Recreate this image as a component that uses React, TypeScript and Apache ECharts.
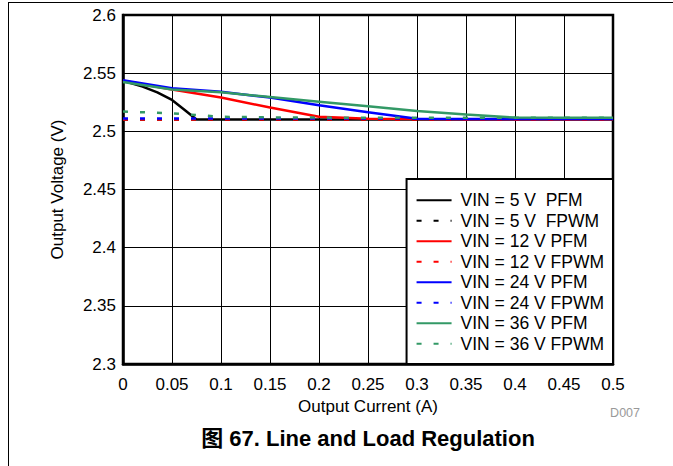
import React, { useEffect, useRef } from 'react';
import * as echarts from 'echarts';

// Output current (A) grid used by most curves
const currentGrid = [0, 0.05, 0.1, 0.15, 0.2, 0.25, 0.3, 0.35, 0.4, 0.45, 0.5];

// VIN = 5 V PFM (own x points because of the knee)
const vin5PfmCurrent = [0, 0.02, 0.035, 0.05, 0.062, 0.075, 0.1, 0.15, 0.2, 0.25, 0.3, 0.35, 0.4, 0.45, 0.5];
const vin5PfmVoltage = [2.5435, 2.5385, 2.5335, 2.527, 2.519, 2.5102, 2.5101, 2.5101, 2.5101, 2.5101, 2.5101, 2.5101, 2.5101, 2.5101, 2.5101];
const vin5FpwmVoltage = [2.5102, 2.5102, 2.5102, 2.5102, 2.5102, 2.5102, 2.5102, 2.5102, 2.5102, 2.5102, 2.5102];

const vin12PfmVoltage = [2.5435, 2.536, 2.529, 2.5205, 2.5125, 2.5108, 2.5105, 2.5104, 2.5104, 2.5104, 2.5104];
const vin12FpwmVoltage = [2.5102, 2.5102, 2.5102, 2.5102, 2.5102, 2.5102, 2.5102, 2.5102, 2.5102, 2.5102, 2.5102];

const vin24PfmVoltage = [2.544, 2.537, 2.534, 2.529, 2.5225, 2.5165, 2.5108, 2.5107, 2.5107, 2.5107, 2.5107];
const vin24FpwmVoltage = [2.5111, 2.5111, 2.5111, 2.5111, 2.5111, 2.5111, 2.5111, 2.5111, 2.5111, 2.5111, 2.5111];

const vin36PfmVoltage = [2.5425, 2.536, 2.5335, 2.5295, 2.5255, 2.5215, 2.5175, 2.5145, 2.5118, 2.5116, 2.5116];
const vin36FpwmCurrent = [0, 0.05, 0.075, 0.1, 0.15, 0.2, 0.25, 0.3, 0.35, 0.4, 0.45, 0.5];
const vin36FpwmVoltage = [2.517, 2.5155, 2.514, 2.5125, 2.512, 2.5118, 2.5117, 2.5117, 2.5116, 2.5116, 2.5116, 2.5116];

const seriesNames = [
  'VIN = 5 V  PFM',
  'VIN = 5 V  FPWM',
  'VIN = 12 V PFM',
  'VIN = 12 V FPWM',
  'VIN = 24 V PFM',
  'VIN = 24 V FPWM',
  'VIN = 36 V PFM',
  'VIN = 36 V FPWM',
];

const yTicks = { min: 2.3, max: 2.6, step: 0.05 };
const xTicks = { min: 0, max: 0.5, step: 0.05 };

const FONT = '"Liberation Sans", Arial, Helvetica, sans-serif';

const zip = (xs: number[], ys: number[]) => xs.map((x, i) => [x, ys[i]]);

export default function App() {
  const ref = useRef<HTMLDivElement>(null);
  useEffect(() => {
    const chart = echarts.init(ref.current!, null, { renderer: 'svg' });
    const mk = (name: string, color: string, data: number[][], dashed: boolean) => ({
      name,
      type: 'line',
      data,
      symbol: 'none',
      showSymbol: false,
      color,
      lineStyle: { color, width: 2.5, type: dashed ? [5, 12] : 'solid' },
    });
    const option: any = {
      animation: false,
      backgroundColor: '#fff',
      grid: {
        left: 123,
        right: 60,
        top: 15,
        bottom: 102,
        show: true,
        borderColor: '#000',
        borderWidth: 2.5,
      },
      xAxis: {
        type: 'value',
        min: xTicks.min,
        max: xTicks.max,
        interval: xTicks.step,
        name: 'Output Current (A)',
        nameLocation: 'middle',
        nameGap: 33,
        nameTextStyle: { color: '#000', fontSize: 17, fontFamily: FONT },
        axisLine: { show: true, lineStyle: { color: '#000', width: 2.5 } },
        axisTick: { show: false },
        axisLabel: {
          color: '#000',
          fontSize: 17,
          fontFamily: FONT,
          margin: 12,
          formatter: (v: number) => String(parseFloat(v.toFixed(2))),
        },
        splitLine: { show: true, lineStyle: { color: '#000', width: 1 } },
      },
      yAxis: {
        type: 'value',
        min: yTicks.min,
        max: yTicks.max,
        interval: yTicks.step,
        name: 'Output Voltage (V)',
        nameLocation: 'middle',
        nameGap: 57,
        nameTextStyle: { color: '#000', fontSize: 17, fontFamily: FONT },
        axisLine: { show: true, lineStyle: { color: '#000', width: 2.5 } },
        axisTick: { show: false },
        axisLabel: {
          color: '#000',
          fontSize: 17,
          fontFamily: FONT,
          margin: 7,
          formatter: (v: number) => String(parseFloat(v.toFixed(2))),
        },
        splitLine: { show: true, lineStyle: { color: '#000', width: 1 } },
      },
      legend: {
        data: seriesNames,
        orient: 'vertical',
        right: 60,
        bottom: 102,
        backgroundColor: '#fff',
        borderColor: '#000',
        borderWidth: 2,
        borderRadius: 0,
        padding: [11, 9, 10, 9],
        itemWidth: 35,
        itemHeight: 14,
        itemGap: 0,
        itemStyle: { opacity: 0 },
        textStyle: {
          color: '#000',
          fontSize: 17.5,
          fontFamily: FONT,
          lineHeight: 20.5,
          padding: [0, 0, 0, 4],
        },
      },
      series: [
        mk(seriesNames[0], '#000000', zip(vin5PfmCurrent, vin5PfmVoltage), false),
        mk(seriesNames[1], '#000000', zip(currentGrid, vin5FpwmVoltage), true),
        mk(seriesNames[2], '#ff0000', zip(currentGrid, vin12PfmVoltage), false),
        mk(seriesNames[3], '#ff0000', zip(currentGrid, vin12FpwmVoltage), true),
        mk(seriesNames[4], '#0000ff', zip(currentGrid, vin24PfmVoltage), false),
        mk(seriesNames[5], '#0000ff', zip(currentGrid, vin24FpwmVoltage), true),
        mk(seriesNames[6], '#339966', zip(currentGrid, vin36PfmVoltage), false),
        mk(seriesNames[7], '#339966', zip(vin36FpwmCurrent, vin36FpwmVoltage), true),
      ],
      graphic: [
        { type: 'line', shape: { x1: 8, y1: 2.5, x2: 673, y2: 2.5 }, style: { stroke: '#000', lineWidth: 1 } },
        { type: 'line', shape: { x1: 8.5, y1: 2, x2: 8.5, y2: 466 }, style: { stroke: '#000', lineWidth: 1 } },
        {
          type: 'text',
          x: 640,
          y: 413,
          style: { text: 'D007', fill: '#999', fontSize: 12.5, fontFamily: FONT, align: 'right', verticalAlign: 'middle' },
        },
        {
          type: 'text',
          x: 368,
          y: 438,
          style: {
            text: '图 67. Line and Load Regulation',
            fill: '#000',
            fontSize: 22,
            fontWeight: 'bold',
            fontFamily: '"Liberation Sans", Arial, "Noto Sans CJK SC", sans-serif',
            align: 'center',
            verticalAlign: 'middle',
          },
        },
      ],
    };
    chart.setOption(option);
    return () => chart.dispose();
  }, []);
  return (
    <div
      ref={ref}
      style={{ position: 'fixed', left: 0, top: 0, width: 673, height: 466, background: '#fff' }}
    />
  );
}
